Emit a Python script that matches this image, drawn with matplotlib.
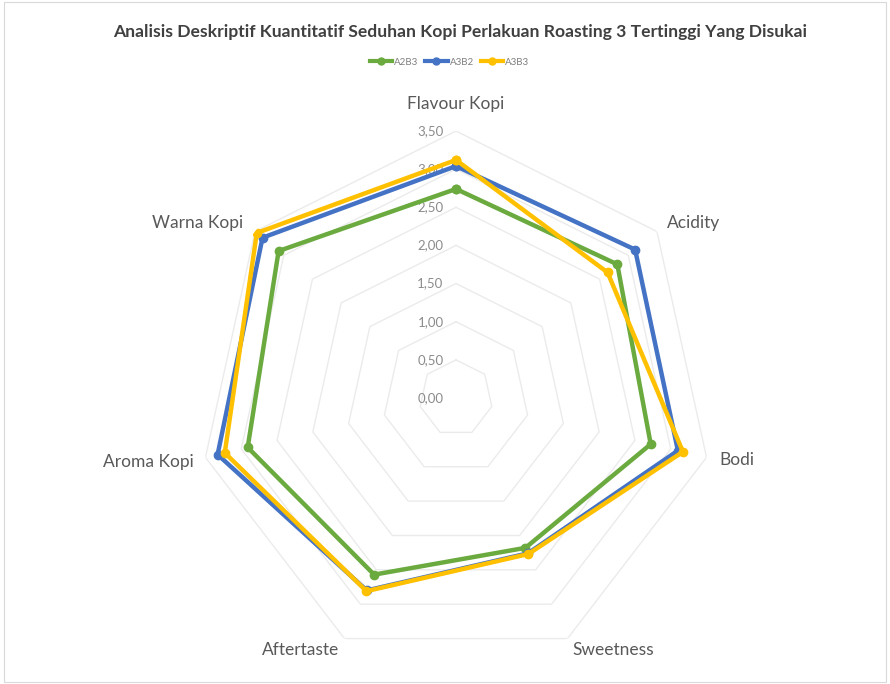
import matplotlib
matplotlib.use("Agg")
import matplotlib.pyplot as plt
import numpy as np
from matplotlib.lines import Line2D
from matplotlib.patches import Rectangle

plt.rcParams["font.family"] = ["Lato", "DejaVu Sans"]

categories = ["Flavour Kopi", "Acidity", "Bodi", "Sweetness", "Aftertaste", "Aroma Kopi", "Warna Kopi"]
a2b3 = [2.74, 2.81, 2.72, 2.18, 2.57, 2.91, 3.09]
a3b2 = [3.04, 3.12, 3.10, 2.26, 2.80, 3.33, 3.37]
a3b3 = [3.12, 2.64, 3.17, 2.27, 2.81, 3.23, 3.47]
series = {"A2B3": a2b3, "A3B2": a3b2, "A3B3": a3b3}
colors = {"A2B3": "#6aaa3f", "A3B2": "#4472c4", "A3B3": "#ffc000"}
levels = [0.0, 0.5, 1.0, 1.5, 2.0, 2.5, 3.0, 3.5]
tick_labels = ["0,00", "0,50", "1,00", "1,50", "2,00", "2,50", "3,00", "3,50"]

# label placement around the outer ring: (dx, dy) in px, alignment
LABEL_OFFSETS = [(0, 27, "center"), (10, 9, "left"), (13, -3, "left"), (5, -11, "left"),
                 (-5, -11, "right"), (-12, -5, "right"), (-12, 9, "right")]

W, H = 890, 684
fig = plt.figure(figsize=(W / 100, H / 100), dpi=100)
fig.patches.append(Rectangle((0.004, 0.003), 0.992, 0.994, transform=fig.transFigure,
                             fill=False, edgecolor="#d9d9d9", linewidth=0.8))

cx, cy, RX, RY = 456, 398, 257, 267
ax = fig.add_axes([(cx - RX) / W, (H - cy - RY) / H, 2 * RX / W, 2 * RY / H], projection="polar")
ax.set_aspect("auto")
ax.set_theta_zero_location("N")
ax.set_theta_direction(-1)
ax.set_ylim(0, 3.5)
ax.grid(False)
ax.spines["polar"].set_visible(False)
ax.set_xticks([])
ax.set_yticks([])
ax.patch.set_alpha(0)

n = len(categories)
angles = np.arange(n) * 2 * np.pi / n
closed = np.append(angles, angles[0])

# heptagon grid
for lv in levels[1:]:
    ax.plot(closed, [lv] * (n + 1), color="#ebebeb", linewidth=1.0, zorder=1)

# value labels along the top axis
for lv, lab in zip(levels, tick_labels):
    ax.annotate(lab, xy=(0, lv), xytext=(-9, 0), textcoords="offset points",
                ha="right", va="center", fontsize=9.5, color="#8c8c8c")

# category labels
for ang, cat, (dx, dy, ha) in zip(angles, categories, LABEL_OFFSETS):
    ax.annotate(cat, xy=(ang, 3.5), xytext=(dx * 0.72, dy * 0.72), textcoords="offset points",
                ha=ha, va="center", fontsize=12.5, color="#595959")

for name, vals in series.items():
    ax.plot(closed, vals + vals[:1], color=colors[name], linewidth=3.2,
            marker="o", markersize=6, zorder=3)

fig.text(0.517, 0.953, "Analisis Deskriptif Kuantitatif Seduhan Kopi Perlakuan Roasting 3 Tertinggi Yang Disukai",
         ha="center", va="center", fontsize=12.6, fontweight="bold", color="#404040")

handles = [Line2D([], [], color=colors[k], linewidth=3, marker="o", markersize=5) for k in series]
fig.legend(handles, list(series.keys()), loc="center", bbox_to_anchor=(0.505, 0.909), ncol=3,
           frameon=False, fontsize=7, handlelength=2.3, handletextpad=0.2, columnspacing=0.7,
           labelcolor="#7f7f7f")

fig.savefig("out.png", dpi=100)
